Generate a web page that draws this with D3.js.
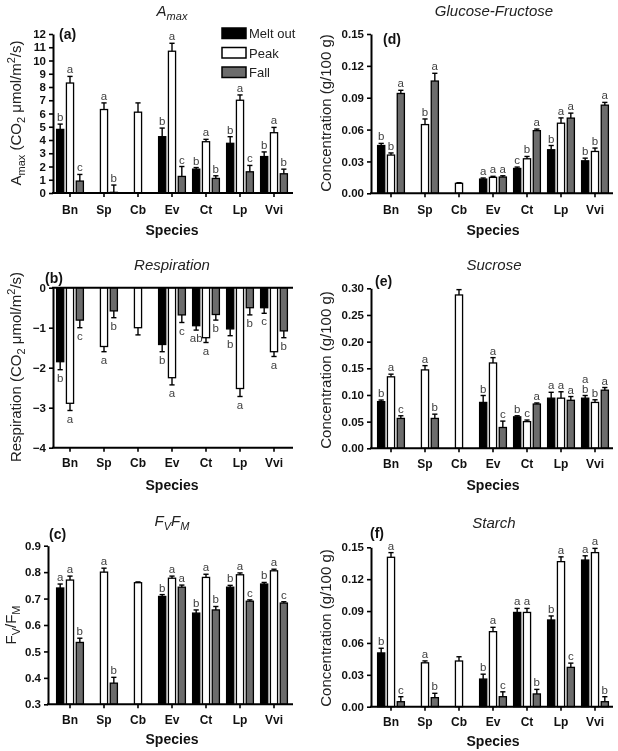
<!DOCTYPE html>
<html><head><meta charset="utf-8">
<script src="https://cdn.jsdelivr.net/npm/d3@7"></script>
<style>
body{margin:0;background:#fff}
svg{display:block;will-change:transform}
text{font-family:"Liberation Sans",Arial,sans-serif}
</style>
</head><body>
<svg id="c" width="618" height="751"></svg>
<script>
const species = ["Bn","Sp","Cb","Ev","Ct","Lp","Vvi"];
const seasons = ["Melt out","Peak","Fall"];

// (a) Amax
const amaxMelt = [4.8, null, null, 4.25, 1.8, 3.75, 2.75];
const amaxMeltSE = [0.4, null, null, 0.65, 0.12, 0.5, 0.35];
const amaxPeak = [8.3, 6.3, 6.1, 10.7, 3.87, 7.0, 4.55];
const amaxPeakSE = [0.5, 0.5, 0.7, 0.6, 0.18, 0.4, 0.4];
const amaxFall = [0.9, 0.05, null, 1.25, 1.1, 1.6, 1.45];
const amaxFallSE = [0.5, 0.55, null, 0.75, 0.2, 0.48, 0.35];
const amaxLetters = [["b","","","b","b","b","b"],["a","a","","a","a","a","a"],["c","b","","c","b","c","b"]];
const amaxTicks = [0,1,2,3,4,5,6,7,8,9,10,11,12];

// (b) Respiration
const respMelt = [-1.85, null, null, -1.42, -0.95, -1.03, -0.5];
const respMeltSE = [0.2, null, null, 0.18, 0.11, 0.17, 0.14];
const respPeak = [-2.89, -1.47, -1.0, -2.25, -1.25, -2.52, -1.6];
const respPeakSE = [0.18, 0.13, 0.18, 0.18, 0.12, 0.2, 0.12];
const respFall = [-0.81, -0.58, null, -0.68, -0.67, -0.5, -1.08];
const respFallSE = [0.19, 0.17, null, 0.19, 0.14, 0.18, 0.17];
const respLetters = [["b","","","b","ab","b","c"],["a","a","","a","a","a","a"],["c","b","","c","b","b","b"]];
const respTicks = [0,-1,-2,-3,-4];

// (c) Fv/Fm
const fvMelt = [0.74, null, null, 0.708, 0.645, 0.743, 0.755];
const fvMeltSE = [0.015, null, null, 0.007, 0.012, 0.007, 0.006];
const fvPeak = [0.77, 0.80, 0.76, 0.777, 0.78, 0.79, 0.805];
const fvPeakSE = [0.015, 0.015, 0.003, 0.008, 0.012, 0.007, 0.006];
const fvFall = [0.534, 0.38, null, 0.743, 0.657, 0.69, 0.683];
const fvFallSE = [0.016, 0.022, null, 0.008, 0.013, 0.005, 0.005];
const fvLetters = [["a","","","b","b","b","b"],["a","a","","a","a","a","a"],["b","b","","a","b","c","c"]];
const fvTicks = [0.3,0.4,0.5,0.6,0.7,0.8,0.9];

// (d) Glucose-Fructose
const gfMelt = [0.045, null, null, 0.0134, 0.0234, 0.041, 0.0306];
const gfMeltSE = [0.002, null, null, 0.001, 0.0013, 0.004, 0.0025];
const gfPeak = [0.036, 0.0647, 0.0094, 0.015, 0.0325, 0.066, 0.0394];
const gfPeakSE = [0.002, 0.0053, 0.0006, 0.001, 0.0022, 0.005, 0.0032];
const gfFall = [0.094, 0.1057, null, 0.0153, 0.059, 0.0708, 0.083];
const gfFallSE = [0.003, 0.0073, null, 0.0012, 0.0015, 0.0047, 0.0026];
const gfLetters = [["b","","","a","c","b","b"],["b","b","","a","b","a","b"],["a","a","","a","a","a","a"]];
const gfTicks = [0,0.03,0.06,0.09,0.12,0.15];

// (e) Sucrose
const sucMelt = [0.0875, null, null, 0.086, 0.059, 0.094, 0.094];
const sucMeltSE = [0.003, null, null, 0.013, 0.002, 0.011, 0.005];
const sucPeak = [0.134, 0.147, 0.2875, 0.16, 0.05, 0.094, 0.086];
const sucPeakSE = [0.005, 0.008, 0.01, 0.01, 0.003, 0.012, 0.005];
const sucFall = [0.056, 0.056, null, 0.039, 0.083, 0.09, 0.109];
const sucFallSE = [0.005, 0.008, null, 0.012, 0.002, 0.007, 0.005];
const sucLetters = [["b","","","b","b","a","a|b"],["a","a","","a","c","a","b"],["c","b","","c","a","a","a"]];
const sucTicks = [0,0.05,0.10,0.15,0.20,0.25,0.30];

// (f) Starch
const stMelt = [0.0506, null, null, 0.026, 0.0887, 0.0816, 0.138];
const stMeltSE = [0.0044, null, null, 0.0046, 0.0038, 0.0038, 0.004];
const stPeak = [0.1406, 0.0413, 0.043, 0.0706, 0.0887, 0.1365, 0.145];
const stPeakSE = [0.0044, 0.0018, 0.004, 0.0041, 0.0038, 0.0045, 0.004];
const stFall = [0.0047, 0.0085, null, 0.0094, 0.012, 0.037, 0.0047];
const stFallSE = [0.0047, 0.0041, null, 0.0046, 0.0043, 0.004, 0.0047];
const stLetters = [["b","","","b","a","b","a"],["a","a","","a","a","a","a"],["c","b","","c","b","c","b"]];
const stTicks = [0,0.03,0.06,0.09,0.12,0.15];

const fills = {"Melt out":"#000000","Peak":"#ffffff","Fall":"#6c6c6c"};
const svg = d3.select("#c");

function panel(o){
  const g = svg.append("g");
  const x = d3.scaleBand().domain(species).range([o.bx, o.bx+238]);
  const xs = d3.scaleBand().domain(seasons).range([-14,14]).paddingInner(0.15);
  const y = d3.scaleLinear().domain(o.domain).range([o.yb, o.yt]);
  const base = Math.max(o.domain[0], Math.min(o.domain[1], 0));
  const bw = xs.bandwidth();
  o.series.forEach((s, si) => {
    s.vals.forEach((v, i) => {
      if (v == null) return;
      const x0 = x(species[i]) + x.bandwidth()/2 + xs(seasons[si]);
      const cx = x0 + bw/2;
      const y0 = y(base), y1 = y(v);
      g.append("rect")
        .attr("x", x0 + 0.6).attr("width", bw - 1.2)
        .attr("y", Math.min(y0, y1)).attr("height", Math.abs(y1 - y0))
        .attr("fill", fills[seasons[si]]).attr("stroke", "#000").attr("stroke-width", 1.3);
      const sgn = v < 0 ? -1 : 1;
      const et = v + sgn * s.se[i];
      g.append("line").attr("x1", cx).attr("x2", cx).attr("y1", y1).attr("y2", y(et))
        .attr("stroke", "#000").attr("stroke-width", 1.4);
      g.append("line").attr("x1", cx - 2.6).attr("x2", cx + 2.6).attr("y1", y(et)).attr("y2", y(et))
        .attr("stroke", "#000").attr("stroke-width", 1.4);
      const lab = s.letters[i];
      if (lab) {
        const parts = lab.split("|");
        parts.forEach((p, pi) => {
          const yy = sgn > 0 ? y(et) - 3 - (parts.length - 1 - pi) * 10 : y(et) + 12 + pi * 10;
          g.append("text").attr("x", cx).attr("y", yy).attr("text-anchor", "middle")
            .attr("font-size", 11.5).attr("fill", "#404040").text(p);
        });
      }
    });
  });
  // y axis
  const ya = g.append("g").attr("transform", `translate(${o.ax},0)`)
    .call(d3.axisLeft(y).tickValues(o.ticks).tickFormat(o.fmt).tickSize(4).tickSizeOuter(0).tickPadding(3));
  ya.select(".domain").attr("stroke-width", 2);
  ya.selectAll(".tick line").attr("stroke-width", 1.6);
  ya.selectAll(".tick text").attr("font-size", 11.5).attr("font-weight", "bold")
    .attr("font-family", '"Liberation Sans",Arial,sans-serif').attr("fill", "#111");
  // x axis
  const yBottom = o.yb;
  const xa = g.append("g").attr("transform", `translate(0,${yBottom})`)
    .call(d3.axisBottom(x).tickSize(4).tickSizeOuter(0).tickPadding(o.tp || 8));
  xa.select(".domain").remove();
  xa.selectAll(".tick line").attr("stroke-width", 1.6);
  xa.selectAll(".tick text").attr("font-size", 12).attr("font-weight", "bold")
    .attr("font-family", '"Liberation Sans",Arial,sans-serif').attr("fill", "#111");
  g.append("line").attr("x1", o.ax - 1).attr("x2", o.xr).attr("y1", yBottom).attr("y2", yBottom)
    .attr("stroke", "#000").attr("stroke-width", 2);
  if (o.zeroLine) {
    g.append("line").attr("x1", o.ax - 1).attr("x2", o.xr).attr("y1", y(0)).attr("y2", y(0))
      .attr("stroke", "#000").attr("stroke-width", 2);
  }
  // species label
  g.append("text").attr("x", o.bx + 119).attr("y", yBottom + (o.sy || 42)).attr("text-anchor", "middle")
    .attr("font-size", 14).attr("font-weight", "bold").attr("fill", "#111").text("Species");
  // panel letter
  g.append("text").attr("x", o.lx).attr("y", o.ly).attr("font-size", 14).attr("font-weight", "bold")
    .attr("fill", "#111").text(o.tag);
  return {g, x, y};
}

function series(m, ms, p, ps, f, fs, L){
  return [{vals:m, se:ms, letters:L[0]},{vals:p, se:ps, letters:L[1]},{vals:f, se:fs, letters:L[2]}];
}

panel({bx:53, ax:53, xr:293, yt:34, yb:193, domain:[0,12], ticks:amaxTicks, fmt:d3.format("d"),
  series:series(amaxMelt,amaxMeltSE,amaxPeak,amaxPeakSE,amaxFall,amaxFallSE,amaxLetters), tag:"(a)", lx:59, ly:39});
panel({bx:53, ax:53, xr:293, yt:287.7, yb:447.7, domain:[-4,0], ticks:respTicks, fmt:d => d === 0 ? "0" : "\u2212" + Math.abs(d),
  series:series(respMelt,respMeltSE,respPeak,respPeakSE,respFall,respFallSE,respLetters), tag:"(b)", lx:45, ly:283, zeroLine:true, tp:7});
panel({bx:53, ax:48, xr:293, yt:545.7, yb:704.3, domain:[0.3,0.9], ticks:fvTicks, fmt:d3.format(".1f"),
  series:series(fvMelt,fvMeltSE,fvPeak,fvPeakSE,fvFall,fvFallSE,fvLetters), tag:"(c)", lx:49, ly:539, tp:7, sy:40});
panel({bx:374, ax:371, xr:613, yt:34, yb:193.3, domain:[0,0.15], ticks:gfTicks, fmt:d3.format(".2f"),
  series:series(gfMelt,gfMeltSE,gfPeak,gfPeakSE,gfFall,gfFallSE,gfLetters), tag:"(d)", lx:383, ly:44});
panel({bx:374, ax:371, xr:613, yt:288.3, yb:448.3, domain:[0,0.3], ticks:sucTicks, fmt:d3.format(".2f"),
  series:series(sucMelt,sucMeltSE,sucPeak,sucPeakSE,sucFall,sucFallSE,sucLetters), tag:"(e)", lx:375, ly:286, tp:7});
panel({bx:374, ax:371, xr:613, yt:547.3, yb:706.7, domain:[0,0.15], ticks:stTicks, fmt:d3.format(".2f"),
  series:series(stMelt,stMeltSE,stPeak,stPeakSE,stFall,stFallSE,stLetters), tag:"(f)", lx:370, ly:538, tp:7, sy:39});

// Titles
function title(x, y, parts){
  const t = svg.append("text").attr("x", x).attr("y", y).attr("text-anchor", "middle")
    .attr("font-size", 15).attr("font-style", "italic").attr("fill", "#222");
  parts.forEach(p => {
    const s = t.append("tspan").text(p.t);
    if (p.sub) s.attr("font-size", 11).attr("dy", 4);
    if (p.up) s.attr("dy", -4);
  });
}
title(172, 16, [{t:"A"},{t:"max", sub:true}]);
title(494, 16, [{t:"Glucose-Fructose"}]);
title(172, 270, [{t:"Respiration"}]);
title(494, 270, [{t:"Sucrose"}]);
title(172, 526, [{t:"F"},{t:"V", sub:true},{t:"F", up:true},{t:"M", sub:true}]);
title(494, 528, [{t:"Starch"}]);

// Y axis labels
function ylab(x, y, parts){
  const t = svg.append("text").attr("transform", `translate(${x},${y}) rotate(-90)`)
    .attr("text-anchor", "middle").attr("font-size", 15).attr("fill", "#222");
  parts.forEach(p => {
    const s = t.append("tspan").text(p.t);
    if (p.fs) s.attr("font-size", p.fs);
    if (p.dy) s.attr("dy", p.dy);
  });
}
ylab(21, 113, [{t:"A"},{t:"max", fs:11, dy:4},{t:" (CO", dy:-4},{t:"2", fs:11, dy:4},{t:" \u03bcmol/m", dy:-4},{t:"2", fs:11, dy:-6},{t:"/s)", dy:6}]);
ylab(21, 367, [{t:"Respiration (CO"},{t:"2", fs:11, dy:4},{t:" \u03bcmol/m", dy:-4},{t:"2", fs:11, dy:-6},{t:"/s)", dy:6}]);
ylab(16, 625, [{t:"F"},{t:"V", fs:11, dy:4},{t:"/F", dy:-4},{t:"M", fs:11, dy:4}]);
ylab(331, 113, [{t:"Concentration (g/100 g)"}]);
ylab(331, 370, [{t:"Concentration (g/100 g)"}]);
ylab(331, 628, [{t:"Concentration (g/100 g)"}]);

// Legend
const leg = svg.append("g");
seasons.forEach((s, i) => {
  leg.append("rect").attr("x", 222).attr("y", 28 + i*19.5).attr("width", 24).attr("height", 10.5)
    .attr("fill", fills[s]).attr("stroke", "#000").attr("stroke-width", 1.5);
  leg.append("text").attr("x", 249).attr("y", 38 + i*19.5).attr("font-size", 13).attr("fill", "#222").text(s);
});
</script>
</body></html>
